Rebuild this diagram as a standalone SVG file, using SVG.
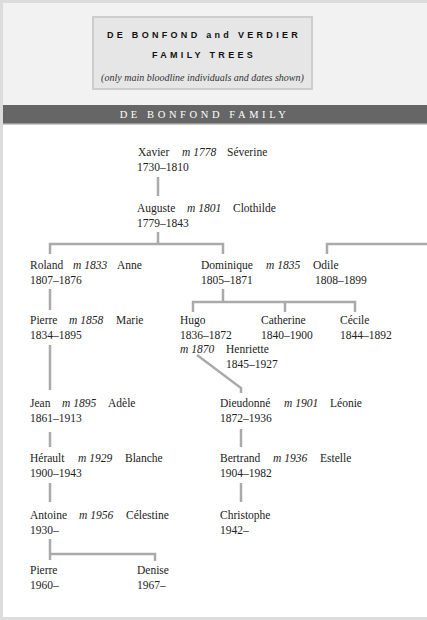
<svg xmlns="http://www.w3.org/2000/svg" width="427" height="620" viewBox="0 0 427 620">
<style>
.n{font-family:"Liberation Serif",serif;font-size:11.5px;fill:#222}
.m{font-family:"Liberation Serif",serif;font-size:11.5px;font-style:italic;fill:#222}
.c{fill:none;stroke:#aaa;stroke-width:2.5}
.t{font-family:"Liberation Sans",Arial,sans-serif;font-weight:bold;font-size:9px;letter-spacing:3.3px;fill:#111}
</style>
<rect x="0" y="0" width="427" height="620" fill="#dcdcdc"/>
<rect x="3" y="3" width="424" height="614" fill="#fff"/>
<rect x="3" y="3" width="424" height="102" fill="#f2f2f2"/>
<rect x="3" y="105" width="424" height="18" fill="#666"/>
<rect x="3" y="123" width="424" height="1.5" fill="#999"/>
<g id="title">
<rect x="93" y="17" width="219" height="72" fill="#e6e6e6" stroke="#cdcdcd" stroke-width="2"/>
<text class="t" x="204" y="37.5" text-anchor="middle">DE BONFOND and VERDIER</text>
<text class="t" x="204" y="57.5" text-anchor="middle">FAMILY TREES</text>
<text x="202.5" y="81" text-anchor="middle" font-family="Liberation Serif,serif" font-style="italic" font-size="10px" fill="#333">(only main bloodline individuals and dates shown)</text>
</g>
<g id="band">
<text x="204.5" y="118" text-anchor="middle" font-family="Liberation Serif,serif" font-size="10.5px" letter-spacing="3.6px" fill="#fff">DE BONFOND FAMILY</text>
</g>
<g id="connectors">
<path class="c" d="M158,177V196"/>
<path class="c" d="M158,232V244"/>
<path class="c" d="M50,254V244H223V254"/>
<path class="c" d="M327,254V244H427"/>
<path class="c" d="M50,289V310"/>
<path class="c" d="M223,289V302"/>
<path class="c" d="M193,312V302H355V312"/>
<path class="c" d="M285,302V312"/>
<path class="c" d="M50,345V390"/>
<path class="c" d="M197,355L241,388V393"/>
<path class="c" d="M50,432V447"/>
<path class="c" d="M241,429V447"/>
<path class="c" d="M50,483V502"/>
<path class="c" d="M241,483V502"/>
<path class="c" d="M50,539V560"/>
<path class="c" d="M50,554H155V561"/>
</g>
<g id="xavier">
<text class="n" x="138" y="156">Xavier</text>
<text class="m" x="182" y="156">m 1778</text>
<text class="n" x="227" y="156">Séverine</text>
<text class="n" x="137" y="170.5">1730–1810</text>
</g>
<g id="auguste">
<text class="n" x="137" y="212">Auguste</text>
<text class="m" x="187" y="212">m 1801</text>
<text class="n" x="233" y="212">Clothilde</text>
<text class="n" x="137" y="226.5">1779–1843</text>
</g>
<g id="roland">
<text class="n" x="30" y="269">Roland</text>
<text class="m" x="73" y="269">m 1833</text>
<text class="n" x="117" y="269">Anne</text>
<text class="n" x="30" y="283.5">1807–1876</text>
</g>
<g id="dominique">
<text class="n" x="201" y="269">Dominique</text>
<text class="m" x="266" y="269">m 1835</text>
<text class="n" x="313" y="269">Odile</text>
<text class="n" x="201" y="283.5">1805–1871</text>
<text class="n" x="315" y="283.5">1808–1899</text>
</g>
<g id="pierre1">
<text class="n" x="30" y="324">Pierre</text>
<text class="m" x="69" y="324">m 1858</text>
<text class="n" x="116" y="324">Marie</text>
<text class="n" x="30" y="338.5">1834–1895</text>
</g>
<g id="hugo">
<text class="n" x="180" y="324">Hugo</text>
<text class="n" x="180" y="338.5">1836–1872</text>
<text class="m" x="180" y="353">m 1870</text>
<text class="n" x="226" y="353">Henriette</text>
<text class="n" x="226" y="367.5">1845–1927</text>
</g>
<g id="catherine">
<text class="n" x="261" y="324">Catherine</text>
<text class="n" x="261" y="338.5">1840–1900</text>
</g>
<g id="cecile">
<text class="n" x="340" y="324">Cécile</text>
<text class="n" x="340" y="338.5">1844–1892</text>
</g>
<g id="jean">
<text class="n" x="30" y="407">Jean</text>
<text class="m" x="62" y="407">m 1895</text>
<text class="n" x="108" y="407">Adèle</text>
<text class="n" x="30" y="421.5">1861–1913</text>
</g>
<g id="dieudonne">
<text class="n" x="220" y="407">Dieudonné</text>
<text class="m" x="284" y="407">m 1901</text>
<text class="n" x="330" y="407">Léonie</text>
<text class="n" x="220" y="421.5">1872–1936</text>
</g>
<g id="herault">
<text class="n" x="30" y="462">Hérault</text>
<text class="m" x="78" y="462">m 1929</text>
<text class="n" x="125" y="462">Blanche</text>
<text class="n" x="30" y="476.5">1900–1943</text>
</g>
<g id="bertrand">
<text class="n" x="220" y="462">Bertrand</text>
<text class="m" x="273" y="462">m 1936</text>
<text class="n" x="320" y="462">Estelle</text>
<text class="n" x="220" y="476.5">1904–1982</text>
</g>
<g id="antoine">
<text class="n" x="30" y="519">Antoine</text>
<text class="m" x="79" y="519">m 1956</text>
<text class="n" x="126" y="519">Célestine</text>
<text class="n" x="30" y="533.5">1930–</text>
</g>
<g id="christophe">
<text class="n" x="220" y="519">Christophe</text>
<text class="n" x="220" y="533.5">1942–</text>
</g>
<g id="pierre2">
<text class="n" x="30" y="574">Pierre</text>
<text class="n" x="30" y="588.5">1960–</text>
</g>
<g id="denise">
<text class="n" x="137" y="574">Denise</text>
<text class="n" x="137" y="588.5">1967–</text>
</g>
</svg>
